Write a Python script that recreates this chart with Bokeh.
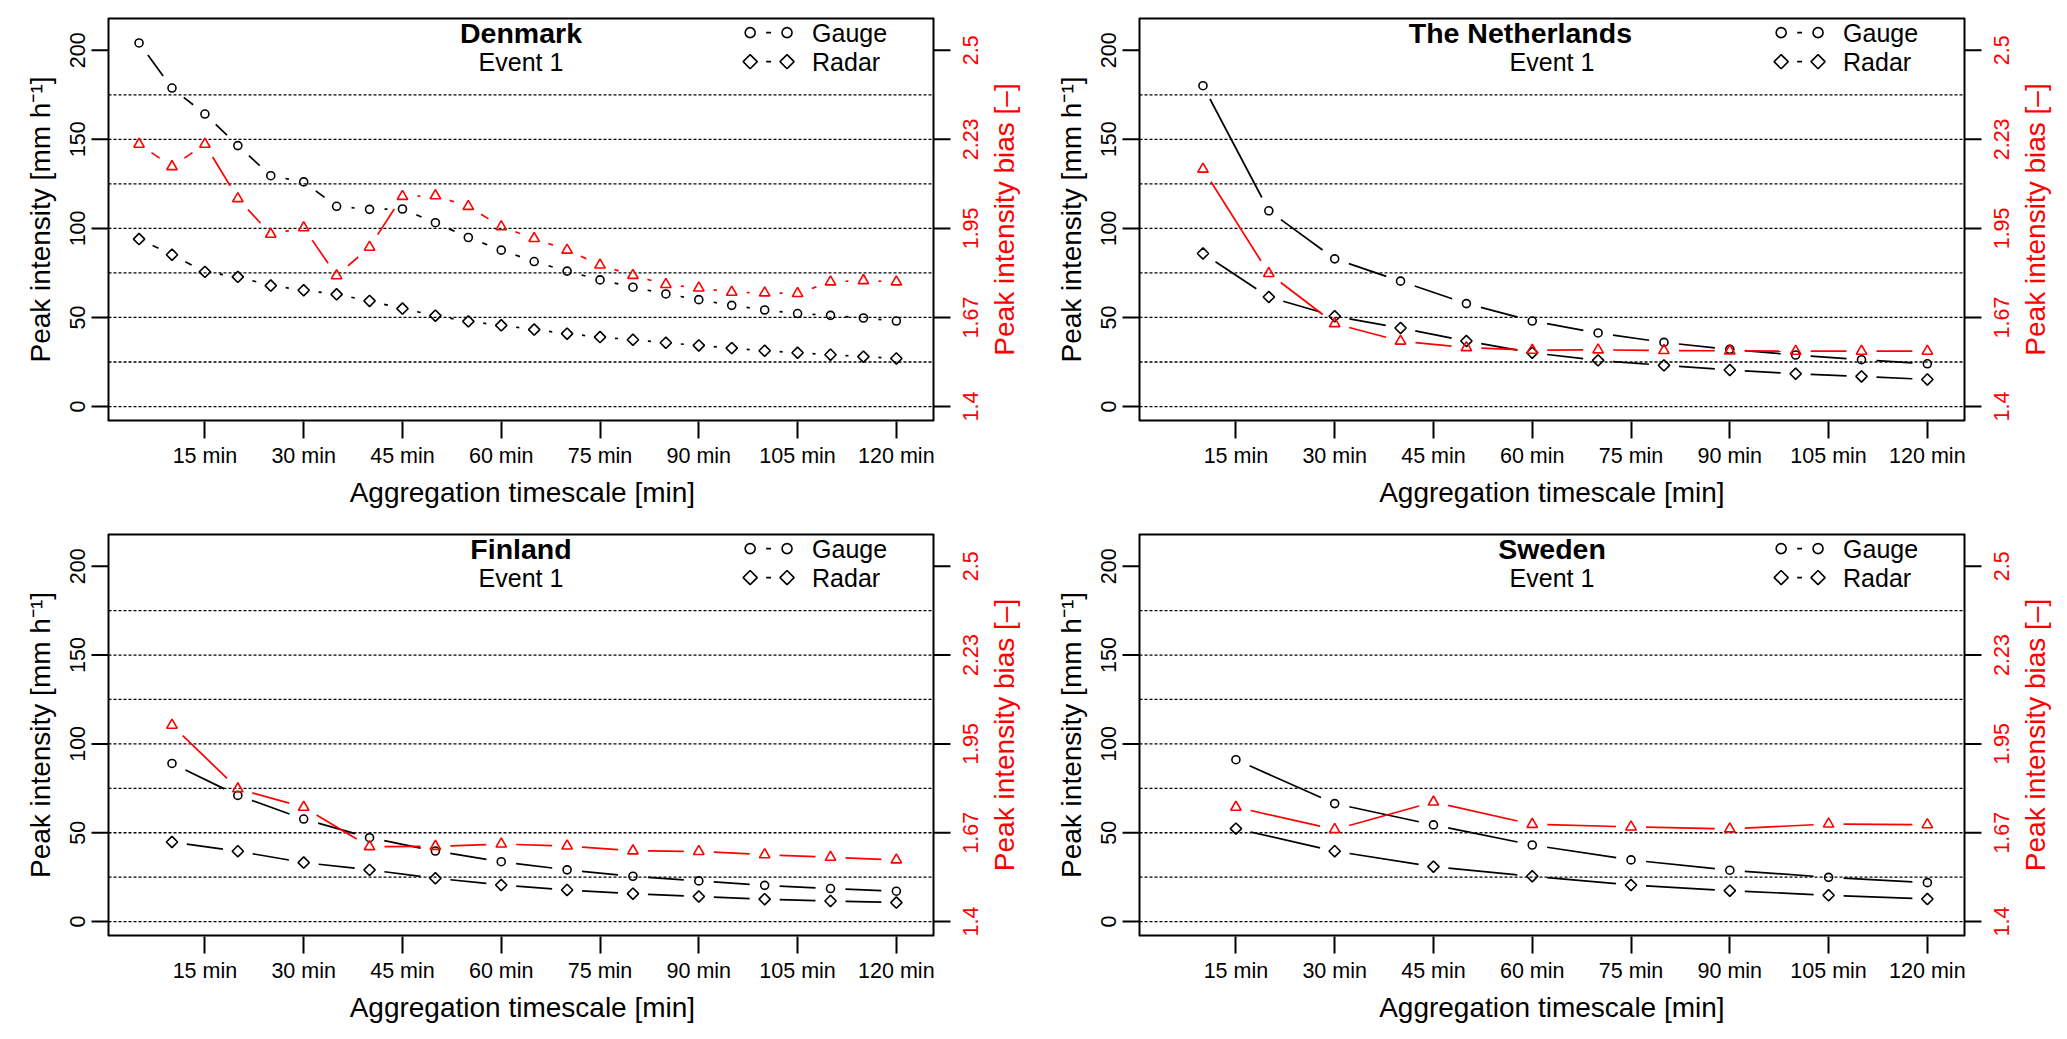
import math

from bokeh.core.properties import value
from bokeh.embed import file_html
from bokeh.layouts import column, row
from bokeh.models import FixedTicker, Label, Range1d
from bokeh.plotting import figure
from bokeh.resources import INLINE

FONT = "Liberation Sans"

# Denmark, event 1 (5 min steps)
dk_minutes = [5, 10, 15, 20, 25, 30, 35, 40, 45, 50, 55, 60,
              65, 70, 75, 80, 85, 90, 95, 100, 105, 110, 115, 120]
dk_gauge = [204.1, 178.8, 164.2, 146.5, 129.6, 126.1, 112.4, 110.7, 110.9, 103.2, 94.9, 87.8,
            81.4, 76.0, 71.1, 67.0, 63.2, 60.0, 56.8, 54.2, 52.2, 51.2, 49.7, 48.0]
dk_radar = [94.0, 85.2, 75.6, 72.8, 67.9, 65.3, 63.0, 59.3, 55.0, 51.0, 47.8, 45.6,
            43.2, 40.9, 39.0, 37.5, 35.8, 34.3, 32.8, 31.3, 30.2, 29.1, 28.0, 27.0]
dk_bias = [2.210, 2.141, 2.210, 2.042, 1.932, 1.952, 1.804, 1.892, 2.049, 2.051, 2.018, 1.955,
           1.919, 1.883, 1.837, 1.805, 1.777, 1.766, 1.753, 1.751, 1.749, 1.785, 1.789, 1.785]

# The Netherlands (10 min steps)
nl_minutes = [10, 20, 30, 40, 50, 60, 70, 80, 90, 100, 110, 120]
nl_gauge = [180.1, 109.9, 82.9, 70.4, 57.8, 48.0, 41.3, 36.0, 32.1, 28.9, 26.3, 24.0]
nl_radar = [85.9, 61.5, 50.7, 44.1, 36.8, 30.2, 25.9, 23.1, 20.5, 18.4, 16.9, 15.2]
nl_bias = [2.133, 1.811, 1.656, 1.602, 1.582, 1.574, 1.575, 1.573, 1.572, 1.571, 1.571, 1.571]

# Finland (10 min steps)
fi_minutes = [10, 20, 30, 40, 50, 60, 70, 80, 90, 100, 110, 120]
fi_gauge = [89.0, 71.0, 57.7, 47.2, 39.7, 33.7, 29.1, 25.5, 22.9, 20.4, 18.6, 17.1]
fi_radar = [44.8, 39.6, 33.2, 29.1, 24.4, 20.6, 17.8, 15.7, 14.1, 12.6, 11.6, 10.7]
fi_bias = [2.008, 1.811, 1.754, 1.632, 1.633, 1.640, 1.634, 1.619, 1.617, 1.607, 1.599, 1.591]

# Sweden (15 min steps)
se_minutes = [15, 30, 45, 60, 75, 90, 105, 120]
se_gauge = [91.1, 66.4, 54.4, 43.1, 34.7, 28.9, 24.9, 21.9]
se_radar = [52.3, 39.6, 30.9, 25.5, 20.6, 17.4, 14.8, 12.7]
se_bias = [1.754, 1.685, 1.770, 1.701, 1.693, 1.687, 1.702, 1.700]

x_ticks = [15, 30, 45, 60, 75, 90, 105, 120]
x_labels = ["15 min", "30 min", "45 min", "60 min", "75 min", "90 min", "105 min", "120 min"]
y_ticks = [0, 50, 100, 150, 200]
y_labels = ["0", "50", "100", "150", "200"]
grid_levels = [0, 25, 50, 75, 100, 125, 150, 175]
bias_ticks = [1.4, 1.675, 1.95, 2.225, 2.5]
bias_labels = ["1.4", "1.67", "1.95", "2.23", "2.5"]

# axis limits (R style 4% padding)
X_LO, X_HI = 0.36, 125.64
Y_LO, Y_HI = -8.4, 218.4
B_LO, B_HI = 1.4 + Y_LO * 0.0055, 1.4 + Y_HI * 0.0055

FW = 825      # width of the plot box
TICK = 17     # tick length
GAP = 15      # px gap round each point, like type="b"
NBSP_W = 0.278 * 28   # width of a no-break space in the 28px axis title


def gapped(xs, ys, sx, sy, gap=GAP):
    out_x, out_y = [], []
    for x1, y1, x2, y2 in zip(xs[:-1], ys[:-1], xs[1:], ys[1:]):
        d = math.hypot((x2 - x1) * sx, (y2 - y1) * sy)
        if d <= 2 * gap:
            continue
        t = gap / d
        out_x.append([x1 + (x2 - x1) * t, x2 - (x2 - x1) * t])
        out_y.append([y1 + (y2 - y1) * t, y2 - (y2 - y1) * t])
    return out_x, out_y


def vtext(p, x, y, labels, size, color, **kw):
    p.text(x=x, y=y, text=labels, angle=math.pi / 2, text_align="center",
           text_baseline="middle", text_color=color, text_font=value(FONT),
           text_font_size=value(size), **kw)


def panel(name, title_x, minutes, gauge, radar, bias, ext_l, bt, fh, bb, ext_r):
    # the frame runs past the box on both sides so both vertical axes sit inside it
    sx = FW / (X_HI - X_LO)
    sy = fh / (Y_HI - Y_LO)
    sb = fh / (B_HI - B_LO)
    p = figure(width=ext_l + FW + ext_r, height=bt + fh + bb,
               x_range=Range1d(X_LO - ext_l / sx, X_HI + ext_r / sx), y_range=Range1d(Y_LO, Y_HI),
               output_backend="svg", toolbar_location=None, y_axis_location=None,
               min_border_left=0, min_border_right=0, min_border_top=bt, min_border_bottom=bb)
    p.extra_y_ranges = {"bias": Range1d(B_LO, B_HI)}
    p.outline_line_color = None
    p.grid.visible = False

    xa = p.xaxis[0]
    xa.axis_line_color = None
    xa.major_tick_out = TICK
    xa.major_tick_in = 0
    xa.major_tick_line_width = 2
    xa.major_tick_line_color = "black"
    xa.minor_tick_line_color = None
    xa.major_label_text_font = FONT
    xa.major_label_text_font_size = "21.5px"
    xa.major_label_text_color = "black"
    xa.axis_label_text_font = FONT
    xa.axis_label_text_font_size = "28px"
    xa.axis_label_text_font_style = "normal"
    xa.axis_label_text_color = "black"
    xa.ticker = FixedTicker(ticks=x_ticks)
    xa.major_label_overrides = dict(zip(x_ticks, x_labels))
    xa.major_label_standoff = 5
    # pad with no-break spaces so the title is centred under the box, not the frame
    pad = "\u00a0" * round(abs(ext_r - ext_l) / NBSP_W)
    title = "Aggregation timescale [min]"
    xa.axis_label = title + pad if ext_r > ext_l else pad + title
    xa.axis_label_standoff = 6

    # dotted reference lines, only across the box
    n = len(grid_levels)
    p.segment(x0=[X_LO] * n, x1=[X_HI] * n, y0=grid_levels, y1=grid_levels,
              line_color="black", line_width=1.3, line_dash="3 2")

    # box (top and bottom sit on the frame edge, so half of them is clipped)
    p.multi_line([[X_LO, X_HI], [X_LO, X_HI]], [[Y_LO, Y_LO], [Y_HI, Y_HI]],
                 line_color="black", line_width=4)
    p.multi_line([[X_LO, X_LO], [X_HI, X_HI]], [[Y_LO, Y_HI], [Y_LO, Y_HI]],
                 line_color="black", line_width=2)

    # left axis
    m = len(y_ticks)
    p.segment(x0=[X_LO - TICK / sx] * m, x1=[X_LO] * m, y0=y_ticks, y1=y_ticks,
              line_color="black", line_width=2)
    vtext(p, [X_LO - 31 / sx] * m, y_ticks, y_labels, "21.5px", "black")
    vtext(p, [X_LO - 68 / sx], [(Y_LO + Y_HI) / 2], ["Peak intensity [mm h⁻¹]"], "28px", "black")

    # right (bias) axis
    k = len(bias_ticks)
    p.segment(x0=[X_HI] * k, x1=[X_HI + TICK / sx] * k, y0=bias_ticks, y1=bias_ticks,
              y_range_name="bias", line_color="black", line_width=2)
    vtext(p, [X_HI + 37 / sx] * k, bias_ticks, bias_labels, "21.5px", "red", y_range_name="bias")
    vtext(p, [X_HI + 71 / sx], [(B_LO + B_HI) / 2], ["Peak intensity bias [–]"], "28px", "red",
          y_range_name="bias")

    gx, gy = gapped(minutes, gauge, sx, sy)
    p.multi_line(gx, gy, line_color="black", line_width=1.7)
    rx, ry = gapped(minutes, radar, sx, sy)
    p.multi_line(rx, ry, line_color="black", line_width=1.7)
    bx, by = gapped(minutes, bias, sx, sb)
    p.multi_line(bx, by, line_color="red", line_width=1.7, y_range_name="bias")

    p.scatter(minutes, gauge, marker="circle", size=8, fill_color=None,
              line_color="black", line_width=1.6)
    p.scatter(minutes, radar, marker="square", angle=math.pi / 4, size=8, fill_color=None,
              line_color="black", line_width=1.6)
    p.scatter(minutes, bias, marker="triangle", size=10.5, fill_color=None,
              line_color="red", line_width=1.6, y_range_name="bias")

    # title block
    row1, row2 = 209.9, 193.6
    p.add_layout(Label(x=title_x, y=row1, text=name, text_align="center", text_baseline="middle",
                       text_color="black", text_font=FONT, text_font_size="28.5px",
                       text_font_style="bold"))
    p.add_layout(Label(x=63.0, y=row2, text="Event 1", text_align="center", text_baseline="middle",
                       text_color="black", text_font=FONT, text_font_size="25px"))

    # legend drawn by hand: symbol - symbol  label
    lx = [97.8, 103.4]
    p.scatter(lx, [row1, row1], marker="circle", size=10, fill_color=None,
              line_color="black", line_width=1.6)
    p.scatter(lx, [row2, row2], marker="square", angle=math.pi / 4, size=10, fill_color=None,
              line_color="black", line_width=1.6)
    lgx, lgy = gapped(lx, [row1, row1], sx, sy, gap=16)
    p.multi_line(lgx, lgy, line_color="black", line_width=1.7)
    lrx, lry = gapped(lx, [row2, row2], sx, sy, gap=16)
    p.multi_line(lrx, lry, line_color="black", line_width=1.7)
    for yy, txt in ((row1, "Gauge"), (row2, "Radar")):
        p.add_layout(Label(x=107.2, y=yy, text=txt, text_align="left", text_baseline="middle",
                           text_color="black", text_font=FONT, text_font_size="25px"))
    return p


top_l = panel("Denmark", 63.0, dk_minutes, dk_gauge, dk_radar, dk_bias, 108, 17, 404, 103, 103)
top_r = panel("The Netherlands", 58.2, nl_minutes, nl_gauge, nl_radar, nl_bias, 103, 17, 404, 103, 95)
bot_l = panel("Finland", 63.0, fi_minutes, fi_gauge, fi_radar, fi_bias, 108, 9, 403, 95, 103)
bot_r = panel("Sweden", 63.0, se_minutes, se_gauge, se_radar, se_bias, 103, 9, 403, 95, 95)

p = column(row(top_l, top_r), row(bot_l, bot_r))

open("out.html", "w").write(file_html(p, INLINE))
